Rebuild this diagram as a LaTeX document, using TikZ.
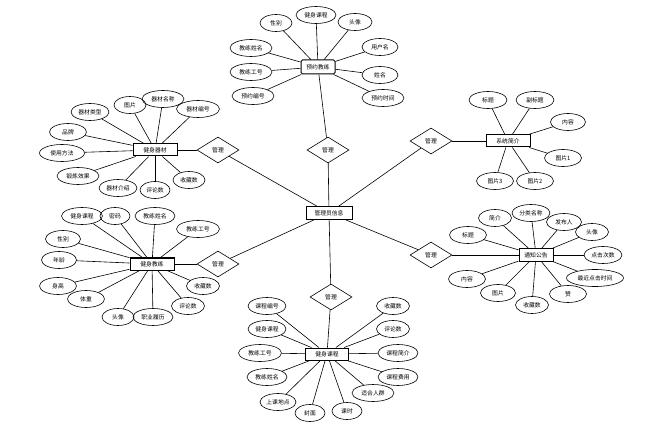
\documentclass[tikz,border=0pt]{standalone}
\usepackage{fontspec}
\setmainfont{Noto Sans CJK SC}
\usetikzlibrary{shapes.geometric}
\begin{document}
\begin{tikzpicture}[x=1pt,y=-1pt, font=\fontsize{5.8}{6.5}\selectfont,
 attr/.style={ellipse, draw, line width=0.6pt, minimum height=17pt, inner sep=0pt},
 ent/.style={rectangle, draw, line width=1pt, minimum height=12pt, inner sep=1pt},
 rel/.style={diamond, draw, line width=0.6pt, minimum width=42pt, minimum height=26pt, inner sep=0pt},
 conn/.style={line width=0.6pt}]
\useasboundingbox (0,0) rectangle (654,433);
% center
\node[ent, minimum width=46pt, minimum height=13pt] (adm) at (329,213) {管理员信息};
\node[rel] (r1) at (328,150) {管理};
\node[rel] (r2) at (218,150) {管理};
\node[rel] (r3) at (218,264) {管理};
\node[rel] (r4) at (331,297) {管理};
\node[rel] (r5) at (431,141) {管理};
\node[rel] (r6) at (431,255) {管理};
\draw[conn] (adm) -- (r1);
\draw[conn] (adm) -- (r2);
\draw[conn] (adm) -- (r3);
\draw[conn] (adm) -- (r4);
\draw[conn] (adm) -- (r5);
\draw[conn] (adm) -- (r6);
% top cluster
\node[ent, rounded corners=1.5pt, minimum width=34pt, minimum height=14pt] (yy) at (318,67) {预约教练};
\draw[conn] (r1) -- (yy);
\node[attr, minimum width=32pt] (yy1) at (276,23) {性别};
\node[attr, minimum width=40pt] (yy2) at (316,15) {健身课程};
\node[attr, minimum width=34pt] (yy3) at (355,22) {头像};
\node[attr, minimum width=42pt] (yy4) at (251,48) {教练姓名};
\node[attr, minimum width=36pt] (yy5) at (380,47) {用户名};
\node[attr, minimum width=42pt] (yy6) at (251,72) {教练工号};
\node[attr, minimum width=36pt] (yy7) at (380,75) {姓名};
\node[attr, minimum width=42pt] (yy8) at (253,96) {预约编号};
\node[attr, minimum width=42pt] (yy9) at (383,98) {预约时间};
\foreach \i in {1,...,9} \draw[conn] (yy) -- (yy\i);
% equipment
\node[ent, minimum width=44pt] (qc) at (155,150) {健身器材};
\draw[conn] (qc) -- (r2);
\node[attr, minimum width=38pt] (qc1) at (90,112) {器材类型};
\node[attr, minimum width=32pt] (qc2) at (130,105) {图片};
\node[attr, minimum width=42pt] (qc3) at (163,99) {器材名称};
\node[attr, minimum width=43pt] (qc4) at (198,109) {器材编号};
\node[attr, minimum width=37pt] (qc5) at (68,132) {品牌};
\node[attr, minimum width=45pt] (qc6) at (62,153) {使用方法};
\node[attr, minimum width=42pt] (qc7) at (78,176) {锻炼效果};
\node[attr, minimum width=38pt] (qc8) at (118,188) {器材介绍};
\node[attr, minimum width=30pt] (qc9) at (155,190) {评论数};
\node[attr, minimum width=32pt] (qc10) at (189,180) {收藏数};
\foreach \i in {1,...,10} \draw[conn] (qc) -- (qc\i);
% coach
\node[ent, minimum width=44pt] (jl) at (152,264) {健身教练};
\draw[conn] (jl) -- (r3);
\node[attr, minimum width=41pt] (jl1) at (82,216) {健身课程};
\node[attr, minimum width=30pt] (jl2) at (115,216) {密码};
\node[attr, minimum width=40pt] (jl3) at (155,216) {教练姓名};
\node[attr, minimum width=43pt] (jl4) at (198,229) {教练工号};
\node[attr, minimum width=35pt] (jl5) at (63,239) {性别};
\node[attr, minimum width=35pt] (jl6) at (59,260) {年龄};
\node[attr, minimum width=37pt] (jl7) at (58,286) {身高};
\node[attr, minimum width=37pt] (jl8) at (86,299) {体重};
\node[attr, minimum width=32pt] (jl9) at (118,317) {头像};
\node[attr, minimum width=40pt] (jl10) at (153,317) {职业履历};
\node[attr, minimum width=33pt] (jl11) at (188,306) {评论数};
\node[attr, minimum width=33pt] (jl12) at (203,286) {收藏数};
\foreach \i in {1,...,12} \draw[conn] (jl) -- (jl\i);
% course
\node[ent, minimum width=43pt] (kc) at (327,354) {健身课程};
\draw[conn] (r4) -- (kc);
\node[attr, minimum width=38pt] (kc1) at (267,306) {课程编号};
\node[attr, minimum width=38pt] (kc2) at (267,329) {健身课程};
\node[attr, minimum width=43pt] (kc3) at (260,353) {教练工号};
\node[attr, minimum width=40pt] (kc4) at (267,377) {教练姓名};
\node[attr, minimum width=36pt] (kc5) at (278,402) {上课地点};
\node[attr, minimum width=30pt] (kc6) at (310,413) {封面};
\node[attr, minimum width=30pt] (kc7) at (347,411) {课时};
\node[attr, minimum width=42pt] (kc8) at (373,393) {适合人群};
\node[attr, minimum width=40pt] (kc9) at (398,377) {课程费用};
\node[attr, minimum width=40pt] (kc10) at (398,353) {课程简介};
\node[attr, minimum width=33pt] (kc11) at (393,329) {评论数};
\node[attr, minimum width=33pt] (kc12) at (393,306) {收藏数};
\foreach \i in {1,...,12} \draw[conn] (kc) -- (kc\i);
% system intro
\node[ent, minimum width=44pt] (xt) at (508,141) {系统简介};
\draw[conn] (r5) -- (xt);
\node[attr, minimum width=38pt] (xt1) at (488,100) {标题};
\node[attr, minimum width=38pt] (xt2) at (535,100) {副标题};
\node[attr, minimum width=35pt] (xt3) at (568,122) {内容};
\node[attr, minimum width=37pt] (xt4) at (563,158) {图片1};
\node[attr, minimum width=37pt] (xt5) at (495,181) {图片3};
\node[attr, minimum width=37pt] (xt6) at (535,181) {图片2};
\foreach \i in {1,...,6} \draw[conn] (xt) -- (xt\i);
% notice
\node[ent, minimum width=34pt] (tz) at (536,255) {通知公告};
\draw[conn] (r6) -- (tz);
\node[attr, minimum width=37pt] (tz1) at (468,235) {标题};
\node[attr, minimum width=33pt] (tz2) at (495,218) {简介};
\node[attr, minimum width=38pt] (tz3) at (531,213) {分类名称};
\node[attr, minimum width=35pt] (tz4) at (564,222) {发布人};
\node[attr, minimum width=33pt] (tz5) at (592,232) {头像};
\node[attr, minimum width=38pt] (tz6) at (603,255) {点击次数};
\node[attr, minimum width=57pt] (tz7) at (595,278) {最近点击时间};
\node[attr, minimum width=37pt] (tz8) at (568,294) {赞};
\node[attr, minimum width=33pt] (tz9) at (532,305) {收藏数};
\node[attr, minimum width=35pt] (tz10) at (498,293) {图片};
\node[attr, minimum width=37pt] (tz11) at (467,279) {内容};
\foreach \i in {1,...,11} \draw[conn] (tz) -- (tz\i);
\end{tikzpicture}
\end{document}
